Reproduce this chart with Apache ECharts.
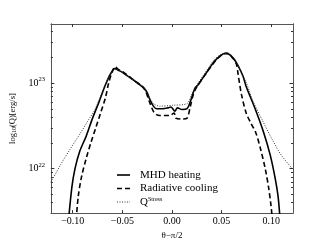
<!DOCTYPE html>
<html><head><meta charset="utf-8">
<script src="https://cdn.jsdelivr.net/npm/echarts@6/dist/echarts.min.js"></script>
<style>html,body{margin:0;padding:0;background:#fff}#c{width:325px;height:245px}</style>
</head><body><div id="c"></div>
<script>
// theta - pi/2 and log10(Q) values
const mhdX = [-0.1050,-0.1009,-0.0977,-0.0930,-0.0864,-0.0800,-0.0735,-0.0670,-0.0622,-0.0574,-0.0541,-0.0493,-0.0445,-0.0380,-0.0348,-0.0283,-0.0251,-0.0220,-0.0187,-0.0155,-0.0090,-0.0040,-0.0010,0.0030,0.0055,0.0103,0.0152,0.0184,0.0232,0.0264,0.0329,0.0425,0.0490,0.0530,0.0570,0.0619,0.0667,0.0716,0.0748,0.0845,0.0925,0.0990,0.1038,0.1070,0.1090];
const mhdY = [21.30,21.78,22.00,22.20,22.38,22.59,22.78,22.98,23.10,23.17,23.15,23.12,23.08,23.03,23.00,22.94,22.89,22.80,22.73,22.70,22.70,22.71,22.72,22.67,22.71,22.69,22.70,22.78,22.94,22.98,23.09,23.25,23.32,23.345,23.34,23.29,23.20,23.08,22.96,22.68,22.42,22.16,21.90,21.67,21.40];
const radX = [-0.0965,-0.0945,-0.0912,-0.0864,-0.0815,-0.0767,-0.0719,-0.0670,-0.0638,-0.0606,-0.0574,-0.0541,-0.0493,-0.0445,-0.0380,-0.0283,-0.0220,-0.0187,-0.0155,-0.0123,-0.0026,0.0023,0.0039,0.0103,0.0152,0.0184,0.0216,0.0248,0.0312,0.0425,0.0500,0.0554,0.0620,0.0650,0.0667,0.0700,0.0748,0.0796,0.0845,0.0893,0.0940,0.0974,0.0999,0.1012];
const radY = [21.40,21.67,21.90,22.12,22.31,22.48,22.65,22.83,23.00,23.12,23.19,23.16,23.13,23.09,23.03,22.94,22.76,22.67,22.63,22.62,22.62,22.65,22.59,22.58,22.59,22.72,22.87,22.95,23.06,23.24,23.33,23.35,23.28,23.22,23.10,22.87,22.65,22.53,22.42,22.23,22.00,21.78,21.56,21.40];
const strX = [-0.1220,-0.1120,-0.1025,-0.0930,-0.0830,-0.0780,-0.0735,-0.0670,-0.0610,-0.0560,-0.0493,-0.0380,-0.0283,-0.0220,-0.0187,-0.0123,0.0006,0.0152,0.0200,0.0264,0.0329,0.0425,0.0500,0.0554,0.0620,0.0650,0.0700,0.0748,0.0813,0.0909,0.1006,0.1100,0.1220];
const strY = [21.84,22.05,22.23,22.40,22.59,22.68,22.80,22.99,23.12,23.16,23.12,23.03,22.95,22.82,22.76,22.73,22.74,22.76,22.87,23.00,23.11,23.27,23.34,23.35,23.30,23.25,23.12,23.01,22.80,22.57,22.35,22.16,21.99];
const seriesNames = ['MHD heating','Radiative cooling','QStress'];
const xTicks = [-0.10,-0.05,0.00,0.05,0.10];
const yMajor = [22,23];
const yMinor = [];
[21,22,23].forEach(n=>{for(let k=2;k<=9;k++){const v=n+Math.log10(k); if(v>21.48&&v<23.69) yMinor.push(v);}});

const FONT = 'Liberation Serif';
const pair = (xs,ys)=>xs.map((x,i)=>[x,ys[i]]);
const chart = echarts.init(document.getElementById('c'));
const fmtX = v => (v<0?'\u2212':'') + Math.abs(v).toFixed(2);
const baseY = (pos, ticks, len, labels) => ({
  type:'value', position:pos, min:21.48, max:23.69, gridIndex:0,
  axisLine:{show:true,onZero:false,lineStyle:{color:'#555',width:1}},
  splitLine:{show:false},
  axisTick:{show:true,inside:true,length:len,customValues:ticks,lineStyle:{color:'#333',width:1}},
  axisLabel:labels ? {show:true,customValues:yMajor,margin:6,fontFamily:FONT,fontSize:10,color:'#000',
     formatter:v=>'10{s|'+Math.round(v)+'}',
     rich:{s:{fontSize:6.5,fontFamily:FONT,color:'#000',padding:[0,0,7,0]}}} : {show:false}
});
const styles = [
  {color:'#000',width:1.6,type:'solid'},
  {color:'#000',width:1.6,type:[5,3]},
  {color:'#333',width:1,type:[1,1.5]}
];
const legX = 117, legY0 = 175, legDY = 13.5;
const legendGraphics = [];
seriesNames.forEach((n,i)=>{
  const y = legY0 + i*legDY;
  legendGraphics.push({type:'line',shape:{x1:legX,y1:y,x2:legX+13,y2:y},
    style:{stroke:styles[i].color,lineWidth:styles[i].width,lineDash:Array.isArray(styles[i].type)?styles[i].type:null}});
  legendGraphics.push({type:'text',x:legX+23,y:y,style:{
    text: n==='QStress' ? 'Q{s|Stress}' : n, fontFamily:FONT, fontSize:11, fill:'#000', verticalAlign:'middle',
    rich:{s:{fontSize:6,fontFamily:FONT,fill:'#000',padding:[0,0,6,0]}}}});
});
chart.setOption({
  animation:false,
  grid:{left:41,right:32,top:24,bottom:25},
  graphic:legendGraphics,
  xAxis:[
    {type:'value',position:'bottom',min:-0.122,max:0.122,
     name:'\u03b8\u2212\u03c0/2',nameLocation:'middle',nameGap:15,
     nameTextStyle:{fontFamily:FONT,fontSize:9,color:'#000'},
     axisLine:{show:true,onZero:false,lineStyle:{color:'#555'}},
     splitLine:{show:false},
     axisTick:{show:true,inside:true,length:3,customValues:xTicks,lineStyle:{color:'#333'}},
     axisLabel:{customValues:xTicks,formatter:fmtX,fontFamily:FONT,fontSize:10,color:'#000',margin:3}},
    {type:'value',position:'top',min:-0.122,max:0.122,
     axisLine:{show:true,onZero:false,lineStyle:{color:'#555'}},
     splitLine:{show:false},
     axisTick:{show:true,inside:true,length:3,customValues:xTicks,lineStyle:{color:'#333'}},
     axisLabel:{show:false}}
  ],
  yAxis:[
    Object.assign(baseY('left', yMajor, 3.5, true), {
      name:'log{b|10}(Q)[erg/s]', nameLocation:'middle', nameGap:26, nameRotate:90,
      nameTextStyle:{fontFamily:FONT,fontSize:8.5,color:'#000',
        rich:{b:{fontSize:6,fontFamily:FONT,color:'#000',padding:[4,0,0,0]}}}}),
    baseY('left', yMinor, 2, false),
    baseY('right', yMajor, 3.5, false),
    baseY('right', yMinor, 2, false)
  ],
  series:[
    {name:seriesNames[0],type:'line',data:pair(mhdX,mhdY),symbol:'none',smooth:0.3,
     lineStyle:styles[0],clip:true},
    {name:seriesNames[1],type:'line',data:pair(radX,radY),symbol:'none',smooth:0.3,
     lineStyle:styles[1],clip:true},
    {name:seriesNames[2],type:'line',data:pair(strX,strY),symbol:'none',smooth:0.3,
     lineStyle:styles[2],clip:true}
  ]
});
</script></body></html>
